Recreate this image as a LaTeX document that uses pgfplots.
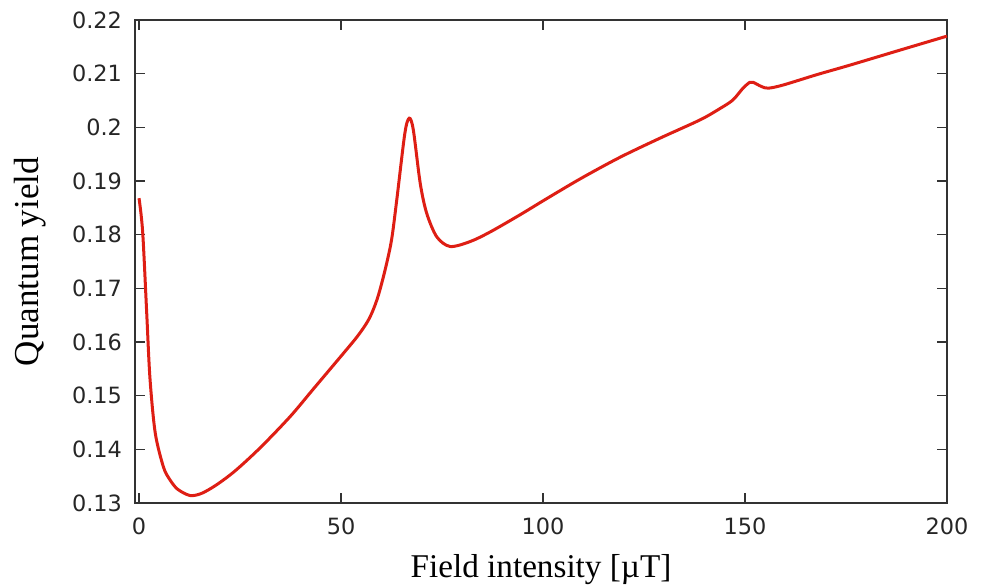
\documentclass[border=0pt]{standalone}
\usepackage{fontspec}
\setmainfont{Liberation Serif}
\newfontfamily\tickfont{DejaVu Sans}
\usepackage{pgfplots}
\pgfplotsset{compat=1.18}
\definecolor{curvered}{RGB}{222,30,20}

\begin{document}
\begin{tikzpicture}
  \begin{axis}[
      scale only axis,
      width=406pt, height=241.5pt,
      xmin=-1, xmax=200,
      ymin=0.13, ymax=0.22,
      xtick={0,50,100,150,200},
      ytick={0.13,0.14,0.15,0.16,0.17,0.18,0.19,0.2,0.21,0.22},
      yticklabels={0.13,0.14,0.15,0.16,0.17,0.18,0.19,0.2,0.21,0.22},
      scaled y ticks=false,
      tick align=inside,
      major tick length=5pt,
      minor tick num=0,
      axis line style={black!80, line width=0.8pt},
      every tick/.style={black!80, line width=0.8pt},
      tick label style={font=\tickfont\fontsize{11.2}{13}\selectfont, black!85},
      /pgf/number format/assume math mode=true,
      xticklabel style={yshift=-4pt},
      yticklabel style={xshift=-3pt},
      xlabel={Field intensity [µT]},
      ylabel={Quantum yield},
      xlabel style={font=\fontsize{16.6}{18}\selectfont,
        at={(axis description cs:0.5,-0.1532)}, anchor=base},
      ylabel style={font=\fontsize{17.5}{19}\selectfont,
        at={(axis description cs:-0.1293,0.5)}, anchor=center},
    ]
    \addplot[curvered, line width=1.5pt, smooth, tension=0.5] coordinates {
      (0,0.1868) (0.9,0.1805) (1.9,0.1654) (2.7,0.1533) (4,0.1431)
      (6,0.1368) (7.5,0.1345) (9.5,0.1326) (12.6,0.1314)
      (15.5,0.1318) (19.2,0.1334) (23.8,0.1360) (30,0.1403) (37.4,0.1461)
      (43.1,0.1512) (50.6,0.1579) (54,0.1610) (56.4,0.1636) (57.8,0.1657) (59.2,0.1686)
      (60.9,0.1734) (62.5,0.1790) (63.8,0.1865) (65.8,0.1989) (66.9,0.2017) (67.9,0.1995)
      (69.6,0.1896) (71.2,0.1840) (73.7,0.1796) (77,0.1778) (81.9,0.1787)
      (86.9,0.1805) (94.3,0.1837) (100,0.1863) (109.2,0.1904) (119,0.1944)
      (129,0.1980) (138.9,0.2014) (143.8,0.2035) (147,0.2051) (149.5,0.2073)
      (151.2,0.2084) (152,0.2084) (154.1,0.2076) (155.8,0.2073) (159.5,0.2079)
      (167.7,0.2098) (176,0.2116) (188.4,0.2144) (200,0.2170)
    };
  \end{axis}
  \pgfresetboundingbox
  \path (-67.5pt,-41.5pt) rectangle (425.5pt,251.5pt);
\end{tikzpicture}
\end{document}
